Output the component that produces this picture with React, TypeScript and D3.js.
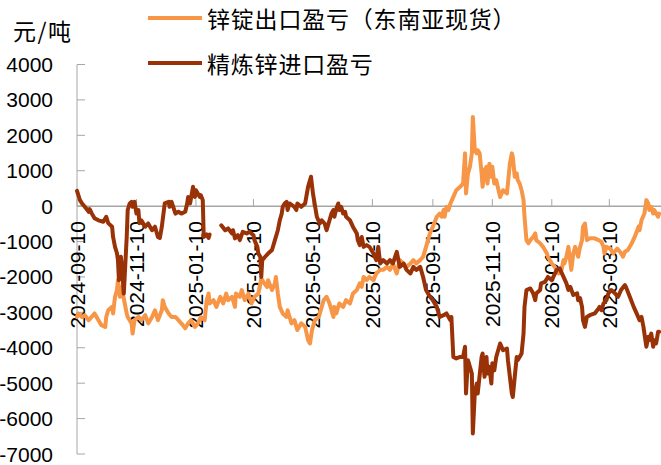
import React from "react";
import * as d3 from "d3";

const seriesNames = ["锌锭出口盈亏（东南亚现货）", "精炼锌进口盈亏"];
const unitLabel = "元/吨";
const yTicks = [4000, 3000, 2000, 1000, 0, -1000, -2000, -3000, -4000, -5000, -6000, -7000];
const xTickLabels = ["2024-09-10", "2024-11-10", "2025-01-10", "2025-03-10", "2025-05-10", "2025-07-10", "2025-09-10", "2025-11-10", "2026-01-10", "2026-03-10"];
const xDomain = ["2024-09-10", "2026-05-02"];

const exportDates = [
  "2024-09-10","2024-09-11","2024-09-15","2024-09-18","2024-09-22","2024-09-25","2024-09-28","2024-10-02","2024-10-05","2024-10-09",
  "2024-10-10","2024-10-12","2024-10-16","2024-10-17","2024-10-19","2024-10-21","2024-10-22","2024-10-24","2024-10-26","2024-10-27",
  "2024-10-29","2024-10-31","2024-11-01","2024-11-05","2024-11-06","2024-11-08","2024-11-12","2024-11-15","2024-11-19","2024-11-22",
  "2024-11-26","2024-11-29","2024-12-01","2024-12-02","2024-12-06","2024-12-07","2024-12-09","2024-12-13","2024-12-16","2024-12-20",
  "2024-12-23","2024-12-26","2024-12-30","2025-01-02","2025-01-05","2025-01-09","2025-01-12","2025-01-15","2025-01-19","2025-01-21",
  "2025-01-23","2025-01-24","2025-01-28","2025-01-31","2025-02-04","2025-02-07","2025-02-10","2025-02-12","2025-02-16","2025-02-19",
  "2025-02-20","2025-02-24","2025-02-26","2025-03-01","2025-03-05","2025-03-08","2025-03-11","2025-03-15","2025-03-18","2025-03-21",
  "2025-03-24","2025-03-25","2025-03-29","2025-04-01","2025-04-02","2025-04-04","2025-04-06","2025-04-09","2025-04-13","2025-04-14",
  "2025-04-18","2025-04-21","2025-04-24","2025-04-28","2025-05-02","2025-05-05","2025-05-07","2025-05-09","2025-05-12","2025-05-16",
  "2025-05-19","2025-05-21","2025-05-24","2025-05-27","2025-05-31","2025-06-01","2025-06-03","2025-06-06","2025-06-10","2025-06-13",
  "2025-06-17","2025-06-20","2025-06-24","2025-06-27","2025-06-29","2025-07-01","2025-07-04","2025-07-07","2025-07-11","2025-07-14",
  "2025-07-18","2025-07-21","2025-07-25","2025-07-28","2025-07-31","2025-08-04","2025-08-07","2025-08-11","2025-08-14","2025-08-18",
  "2025-08-21","2025-08-24","2025-08-28","2025-08-31","2025-09-03","2025-09-07","2025-09-10","2025-09-14","2025-09-17","2025-09-19",
  "2025-09-21","2025-09-22","2025-09-24","2025-09-26","2025-09-28","2025-10-01","2025-10-04","2025-10-08","2025-10-11","2025-10-13",
  "2025-10-14","2025-10-16","2025-10-18","2025-10-20","2025-10-21","2025-10-23","2025-10-25","2025-10-26","2025-10-28","2025-10-30",
  "2025-10-31","2025-11-02","2025-11-04","2025-11-05","2025-11-07","2025-11-09","2025-11-10","2025-11-12","2025-11-14","2025-11-18",
  "2025-11-21","2025-11-25","2025-11-26","2025-11-28","2025-11-30","2025-12-01","2025-12-03","2025-12-05","2025-12-06","2025-12-08",
  "2025-12-10","2025-12-12","2025-12-13","2025-12-15","2025-12-17","2025-12-19","2025-12-22","2025-12-24","2025-12-25","2025-12-29",
  "2026-01-01","2026-01-05","2026-01-06","2026-01-10","2026-01-13","2026-01-17","2026-01-20","2026-01-22","2026-01-23","2026-01-25",
  "2026-01-27","2026-01-30","2026-02-01","2026-02-03","2026-02-06","2026-02-08","2026-02-10","2026-02-11","2026-02-13","2026-02-15",
  "2026-02-18","2026-02-23","2026-02-27","2026-03-02","2026-03-04","2026-03-05","2026-03-07","2026-03-11","2026-03-14","2026-03-18",
  "2026-03-21","2026-03-24","2026-03-26","2026-03-29","2026-04-02","2026-04-05","2026-04-09","2026-04-10","2026-04-12","2026-04-15",
  "2026-04-17","2026-04-19","2026-04-20","2026-04-22","2026-04-24","2026-04-25","2026-04-29","2026-04-30"
];
const exportValues = [
  -3130,-3030,-3130,-3080,-3220,-3130,-3030,-3220,-3360,-3410,
  -3130,-2940,-2845,-3030,-2560,-2370,-2090,-2560,-2280,-2470,
  -2750,-3030,-3130,-3310,-3600,-3220,-3130,-3220,-3080,-3310,
  -3130,-2940,-3130,-3220,-2940,-2655,-2845,-3030,-3130,-3130,
  -3220,-3310,-3450,-3310,-3220,-3410,-3310,-3130,-3220,-2655,
  -2470,-2750,-2655,-2845,-2560,-2750,-2470,-2655,-2560,-2845,
  -2470,-2560,-2370,-2655,-2470,-2750,-2560,-2470,-2040,-2180,
  -2280,-2090,-2370,-2180,-2000,-2470,-2845,-3030,-3130,-2940,
  -3310,-3220,-3500,-3310,-3410,-3785,-3880,-3500,-3220,-3130,
  -2845,-2655,-2560,-2750,-3130,-2845,-3030,-2750,-2845,-2655,
  -2750,-2470,-2370,-2180,-2280,-2000,-2090,-2000,-2090,-1900,
  -1800,-1800,-1715,-1800,-1620,-1900,-1525,-1620,-1715,-1620,
  -1525,-1620,-1525,-1430,-1150,-770,-580,-300,-210,-300,
  -110,-300,-20,-110,76,260,450,545,640,1490,
  360,925,1110,1490,2520,1580,1490,1580,1490,925,
  545,1017,1110,640,1200,830,1110,640,735,260,
  450,360,640,1200,1490,1390,830,925,735,640,
  450,170,-300,-960,-1050,-960,-870,-770,-960,-1050,
  -1150,-1340,-1430,-1620,-1715,-1900,-1800,-1525,-1620,-1430,
  -1150,-1800,-1340,-1150,-1430,-1150,-960,-580,-490,-960,
  -910,-910,-960,-1010,-1150,-1340,-1150,-1200,-1340,-1200,
  -1290,-1430,-1290,-1240,-1050,-870,-580,-680,-400,-210,
  170,76,-110,-20,-210,-110,-300,-210
];

const importDates = [
  "2024-09-10","2024-09-13","2024-09-15","2024-09-18","2024-09-22","2024-09-23","2024-09-25","2024-09-28","2024-10-02","2024-10-07",
  "2024-10-10","2024-10-12","2024-10-16","2024-10-17","2024-10-19","2024-10-21","2024-10-22","2024-10-23","2024-10-25","2024-10-26",
  "2024-10-28","2024-10-31","2024-11-01","2024-11-03","2024-11-05","2024-11-06","2024-11-08","2024-11-10","2024-11-12","2024-11-13",
  "2024-11-15","2024-11-19","2024-11-22","2024-11-26","2024-11-29","2024-12-02","2024-12-04","2024-12-06","2024-12-09","2024-12-13",
  "2024-12-14","2024-12-16","2024-12-20","2024-12-23","2024-12-26","2024-12-30","2025-01-01","2025-01-02","2025-01-04","2025-01-07",
  "2025-01-09","2025-01-10","2025-01-14","2025-01-15","2025-01-17","2025-01-18","2025-01-21","2025-01-23","2025-01-24","2025-01-30",
  "2025-02-05","2025-02-09","2025-02-12","2025-02-16","2025-02-17","2025-02-19","2025-02-22","2025-02-24","2025-02-27","2025-03-03",
  "2025-03-06","2025-03-10","2025-03-11","2025-03-14","2025-03-15","2025-03-17","2025-03-18","2025-03-19","2025-03-22","2025-03-25",
  "2025-03-29","2025-04-01","2025-04-04","2025-04-06","2025-04-08","2025-04-09","2025-04-11","2025-04-13","2025-04-14","2025-04-16",
  "2025-04-21","2025-04-23","2025-04-24","2025-04-28","2025-05-02","2025-05-05","2025-05-08","2025-05-10","2025-05-14","2025-05-17",
  "2025-05-19","2025-05-22","2025-05-24","2025-05-27","2025-05-29","2025-05-31","2025-06-01","2025-06-03","2025-06-05","2025-06-06",
  "2025-06-08","2025-06-10","2025-06-12","2025-06-13","2025-06-17","2025-06-20","2025-06-24","2025-06-25","2025-06-27","2025-06-29",
  "2025-07-01","2025-07-04","2025-07-07","2025-07-11","2025-07-14","2025-07-16","2025-07-18","2025-07-21","2025-07-25","2025-07-28",
  "2025-07-31","2025-08-04","2025-08-07","2025-08-11","2025-08-14","2025-08-18","2025-08-21","2025-08-24","2025-08-28","2025-08-31",
  "2025-09-03","2025-09-07","2025-09-10","2025-09-14","2025-09-17","2025-09-21","2025-09-24","2025-09-28","2025-09-29","2025-10-01",
  "2025-10-04","2025-10-08","2025-10-11","2025-10-13","2025-10-14","2025-10-16","2025-10-20","2025-10-21","2025-10-23","2025-10-25",
  "2025-10-26","2025-10-30","2025-10-31","2025-11-02","2025-11-04","2025-11-05","2025-11-07","2025-11-09","2025-11-10","2025-11-12",
  "2025-11-14","2025-11-18","2025-11-21","2025-11-25","2025-11-26","2025-11-28","2025-11-30","2025-12-01","2025-12-03","2025-12-05",
  "2025-12-06","2025-12-08","2025-12-10","2025-12-12","2025-12-13","2025-12-15","2025-12-19","2025-12-22","2025-12-24","2025-12-25",
  "2025-12-29","2025-12-30","2026-01-03","2026-01-06","2026-01-10","2026-01-15","2026-01-18","2026-01-22","2026-01-25","2026-01-27",
  "2026-01-29","2026-02-01","2026-02-05","2026-02-06","2026-02-08","2026-02-10","2026-02-11","2026-02-13","2026-02-15","2026-02-18",
  "2026-02-23","2026-02-27","2026-02-28","2026-03-02","2026-03-04","2026-03-07","2026-03-09","2026-03-12","2026-03-16","2026-03-19",
  "2026-03-22","2026-03-26","2026-03-27","2026-03-31","2026-04-04","2026-04-07","2026-04-10","2026-04-12","2026-04-14","2026-04-15",
  "2026-04-17","2026-04-19","2026-04-20","2026-04-22","2026-04-24","2026-04-25","2026-04-27","2026-04-29","2026-04-30"
];
const importValues = [
  430,170,80,-20,-160,-85,-200,-340,-400,-440,
  -300,-480,-580,-870,-1150,-1330,-1525,-2090,-1430,-1715,
  -2470,-870,-110,76,120,-20,120,-210,-110,-480,
  -400,-580,-490,-680,-580,-870,-900,-580,76,120,
  -20,120,-210,-160,-210,-160,76,260,76,545,
  260,450,260,310,170,-870,-800,-900,-800,null,
  -540,-680,-630,-770,-680,-910,-820,-960,-725,-770,
  -725,-820,-960,-1150,-1340,-1430,-2000,-1525,-1430,-1340,
  -1240,-960,-680,-400,-210,-20,76,120,-110,76,
  -20,-110,76,-20,76,545,830,360,-300,-490,
  -400,-490,-680,-400,-210,-110,-300,-65,76,-110,
  -20,-210,-160,-300,-400,-580,-770,-960,-1100,-870,
  -1150,-1100,-1150,-1340,-1525,-1150,-1620,-1525,-1620,-1525,
  -1620,-1290,-1715,-1620,-1800,-1900,-1715,-1800,-1715,-2000,
  -2370,-2560,-2655,-2845,-3130,-3080,-3030,-3220,-3130,-4260,
  -4300,-4260,-4260,-3970,-5290,-4350,-4730,-6420,-5290,-5010,
  -5290,-4260,-4160,-4820,-4260,-4730,-4540,-5010,-4440,-4640,
  -4260,-3880,-4070,-4020,-4350,-4820,-5290,-5390,-4820,-4260,
  -4350,-4260,-4160,-3600,-2845,-2370,-2325,-2470,-2655,-2470,
  -2370,-2180,-2140,-2000,-2090,-1800,-1760,-2000,-2180,-2370,
  -2280,-2510,-2460,-2655,-2600,-2845,-3220,-3410,-3130,-3080,
  -3030,-2890,-2845,-2940,-2750,-2655,-2470,-2370,-2470,-2560,
  -2370,-2230,-2280,-2560,-2845,-3030,-3220,-3130,-3410,-3600,
  -3970,-3690,-3785,-3600,-3970,-3785,-3880,-3550,-3550
];

const seriesColors = ["#F79646", "#9A3208"];

type Pt = { date: Date; value: number | null };

export default function App() {
  const width = 661;
  const height = 465;
  const parse = d3.timeParse("%Y-%m-%d");
  const x = d3
    .scaleTime()
    .domain(xDomain.map((s) => parse(s) as Date))
    .range([77, 661]);
  const y = d3.scaleLinear().domain([-7000, 4000]).range([454, 64.5]);

  const makePts = (dates: string[], vals: (number | null)[]): Pt[] =>
    dates.map((d, i) => ({ date: parse(d) as Date, value: vals[i] }));

  const series = [makePts(exportDates, exportValues), makePts(importDates, importValues)];

  const line = d3
    .line<Pt>()
    .defined((d) => d.value !== null)
    .x((d) => x(d.date))
    .y((d) => y(d.value as number));

  const axisColor = "#A6A6A6";
  const numFont = "'Liberation Sans', Arial, sans-serif";
  const cjkFont = "'Noto Sans CJK SC', 'Noto Sans', sans-serif";
  const y0 = y(0);
  const xAxisLeft = x(parse(xDomain[0]) as Date);

  return (
    <svg
      width={width}
      height={height}
      style={{ position: "absolute", left: 0, top: 0, background: "#fff" }}
    >
      {/* unit label */}
      <text x={13} y={30} fontFamily={cjkFont} fontSize={23} letterSpacing={1.5} fill="#000" dominantBaseline="central">
        {unitLabel}
      </text>

      {/* legend */}
      {seriesNames.map((name, i) => (
        <g key={name} transform={`translate(0, ${i === 0 ? 18 : 63})`}>
          <line x1={148} x2={202} y1={0} y2={0} stroke={seriesColors[i]} strokeWidth={4} />
          <text x={207} y={0} fontFamily={cjkFont} fontSize={23} letterSpacing={0.8} fill="#000" dominantBaseline="central">
            {name}
          </text>
        </g>
      ))}

      {/* y axis */}
      <line x1={xAxisLeft} x2={xAxisLeft} y1={y(4000)} y2={y(-7000)} stroke={axisColor} strokeWidth={1} />
      {yTicks.map((t) => (
        <g key={t}>
          <line x1={xAxisLeft} x2={xAxisLeft + 8} y1={y(t)} y2={y(t)} stroke={axisColor} strokeWidth={1} />
          <text
            x={53}
            y={y(t)}
            textAnchor="end"
            dominantBaseline="central"
            fontFamily={numFont}
            fontSize={21}
            fill="#000"
          >
            {t}
          </text>
        </g>
      ))}

      {/* x axis at zero */}
      <line x1={xAxisLeft} x2={661} y1={y0} y2={y0} stroke={axisColor} strokeWidth={1.5} />
      {xTickLabels.map((s) => {
        const px = x(parse(s) as Date);
        return (
          <g key={s}>
            <line x1={px} x2={px} y1={y0} y2={y0 - 7} stroke={axisColor} strokeWidth={1} />
            <text
              transform={`translate(${px}, ${y0 + 15}) rotate(-90)`}
              textAnchor="end"
              dominantBaseline="central"
              fontFamily={numFont}
              fontSize={21}
              fill="#000"
            >
              {s}
            </text>
          </g>
        );
      })}

      {/* lines */}
      {series.map((pts, i) => (
        <path
          key={i}
          d={line(pts) || ""}
          fill="none"
          stroke={seriesColors[i]}
          strokeWidth={4}
          strokeLinejoin="round"
          strokeLinecap="round"
        />
      ))}
    </svg>
  );
}
